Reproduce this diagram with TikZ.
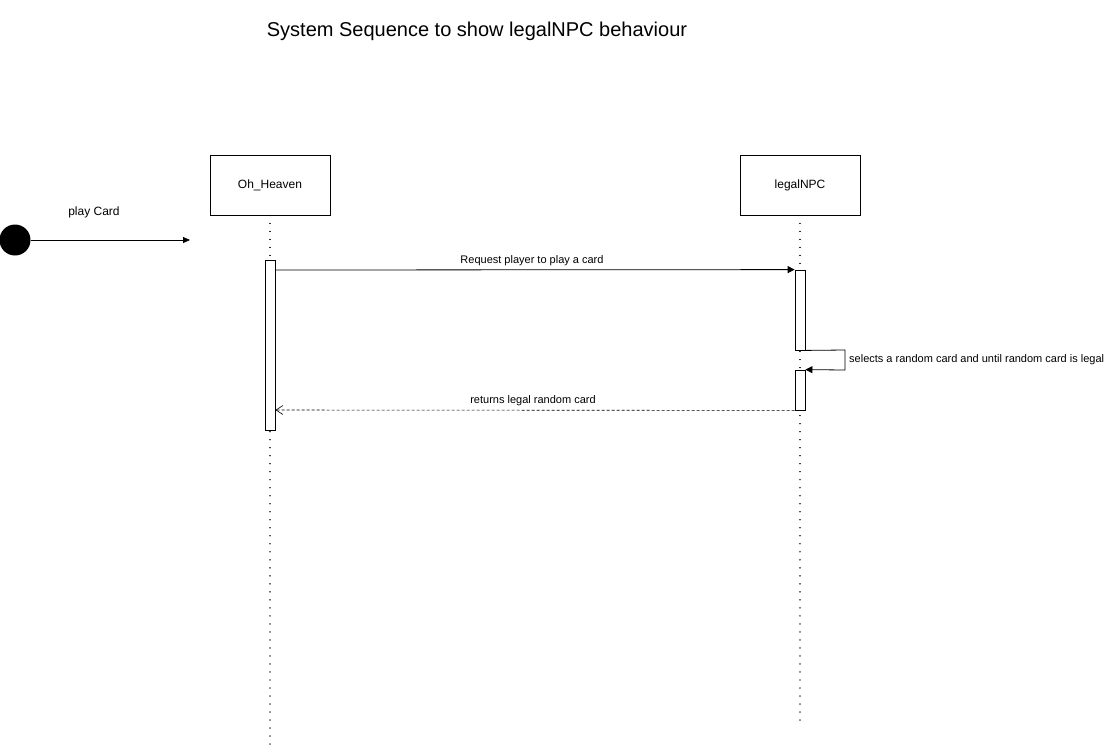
\documentclass[tikz,border=0pt]{standalone}
\usepackage{fontspec}
\setmainfont{Liberation Sans}
\usetikzlibrary{arrows.meta}
\begin{document}
\begin{tikzpicture}[x=1pt,y=-1pt,
  actor/.style={draw,line width=0.8pt,minimum width=120pt,minimum height=60pt,inner sep=0pt,font=\fontsize{12}{14}\selectfont},
  life/.style={line width=1.3pt,dash pattern=on 0.01pt off 8pt,line cap=round},
  act/.style={draw,fill=white,line width=0.8pt,minimum width=10pt,inner sep=0pt},
  msg/.style={line width=0.8pt,-{Triangle[length=7pt,width=7pt]}},
  ret/.style={line width=0.6pt,dashed,dash pattern=on 3pt off 2pt,-{Straight Barb[length=7pt,width=9pt,line width=0.6pt]}},
  lbl/.style={font=\fontsize{11}{13}\selectfont,inner sep=0pt}]
\useasboundingbox (0,0) rectangle (1108,748);
\fill[white] (0,0) rectangle (1108,748);
\node[font=\fontsize{20}{22}\selectfont] (title) at (477,31) {System Sequence to show legalNPC behaviour};
\node[actor] (oh) at (270,185) {Oh\_Heaven};
\node[actor] (npc) at (800,185) {legalNPC};
\coordinate (ohend) at (270,745);
\coordinate (npcend) at (800,724);
\draw[life] (oh.south) -- (ohend);
\draw[life] (npc.south) -- (npcend);
\node[act,minimum height=170pt] (a1) at (270,345) {};
\node[act,minimum height=80pt] (b1) at (800,310) {};
\node[act,minimum height=40pt] (b2) at (800,390) {};
\node[circle,fill=black,minimum size=31pt,inner sep=0pt] (start) at (15,240) {};
\coordinate (startend) at (190,240);
\draw[line width=0.8pt,-{Triangle[length=7pt,width=6pt]}] (start.east) -- (startend);
\node[font=\fontsize{12}{14}\selectfont] (pc) at (94,212) {play Card};
\draw[msg] (a1.north east |- 0,270) -- (b1.north west);
\node[lbl] (m1) at (532,261) {Request player to play a card};
\coordinate (s1) at (845,350);
\coordinate (s2) at (845,370);
\draw[msg] (b1.south east) -- (s1) -- (s2) -- (b2.north east);
\node[lbl,anchor=west] (m2) at (849,360) {selects a random card and until random card is legal};
\draw[ret] (b2.south west) -- (a1.east |- 0,410);
\node[lbl] (m3) at (533,401) {returns legal random card};
\end{tikzpicture}
\end{document}
